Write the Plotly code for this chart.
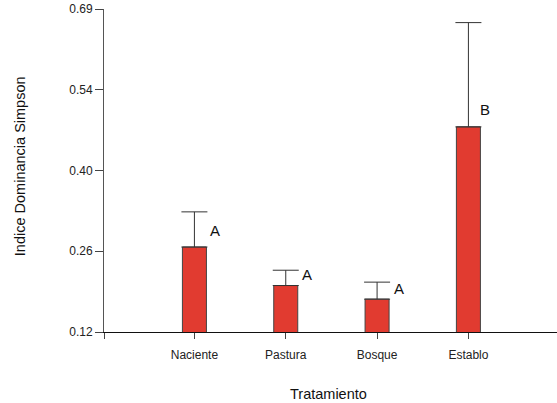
import plotly.graph_objects as go

# Datos
tratamientos = ["Naciente", "Pastura", "Bosque", "Establo"]
posiciones = [1, 2, 3, 4]
indice_simpson = [0.270, 0.202, 0.178, 0.482]
error_sup = [0.062, 0.027, 0.030, 0.184]
letras = ["A", "A", "A", "B"]
letras_y = [0.300, 0.221, 0.196, 0.512]
letras_dx = [0.23, 0.23, 0.24, 0.18]

tick_vals = [0.12, 0.2625, 0.405, 0.5475, 0.69]
tick_text = ["0.12", "0.26", "0.40", "0.54", "0.69"]

x_rango = [0.01, 4.97]

fig = go.Figure()

fig.add_trace(go.Bar(
    x=posiciones,
    y=indice_simpson,
    width=0.263,
    marker=dict(color="#E13B30", line=dict(color="#444444", width=1)),
    error_y=dict(type="data", symmetric=False, array=error_sup,
                 arrayminus=[0] * len(error_sup),
                 color="#333333", thickness=1, width=13),
    showlegend=False,
))

for x, y, dx, t in zip(posiciones, letras_y, letras_dx, letras):
    fig.add_annotation(x=x + dx, y=y, text=t, showarrow=False,
                       font=dict(size=15, color="#111111"))

# titulos de ejes como anotaciones para fijar su posicion
fig.add_annotation(x=0.495, y=-0.192, xref="paper", yref="paper",
                   xanchor="center", yanchor="middle",
                   text="Tratamiento", showarrow=False,
                   font=dict(size=14.5, color="#111111"))
fig.add_annotation(x=-0.185, y=0.514, xref="paper", yref="paper",
                   xanchor="center", yanchor="middle",
                   text="Indice Dominancia Simpson", showarrow=False,
                   textangle=-90, font=dict(size=14.5, color="#111111"))

fig.update_layout(
    width=557, height=403,
    margin=dict(l=104, r=0, t=9, b=71, autoexpand=False),
    plot_bgcolor="white", paper_bgcolor="white",
    font=dict(family="Liberation Sans, Arial, sans-serif", color="#222222", size=12),
    xaxis=dict(
        range=x_rango, automargin=False,
        # marca extra en el origen del eje, sin texto
        tickvals=[x_rango[0]] + posiciones, ticktext=[""] + tratamientos,
        ticks="outside", ticklen=6, tickcolor="#444444",
        ticklabelstandoff=6,
        showline=True, linecolor="#111111", linewidth=1,
        showgrid=False, zeroline=False,
    ),
    yaxis=dict(
        range=[0.12, 0.69], automargin=False,
        tickvals=tick_vals, ticktext=tick_text,
        ticks="outside", ticklen=8, tickcolor="#444444",
        showline=True, linecolor="#555555", linewidth=1,
        showgrid=False, zeroline=False,
    ),
)

# quitar el margen por defecto del body
fig.write_html("out.html", config={"displayModeBar": False},
               post_script="document.body.style.margin='0';")
